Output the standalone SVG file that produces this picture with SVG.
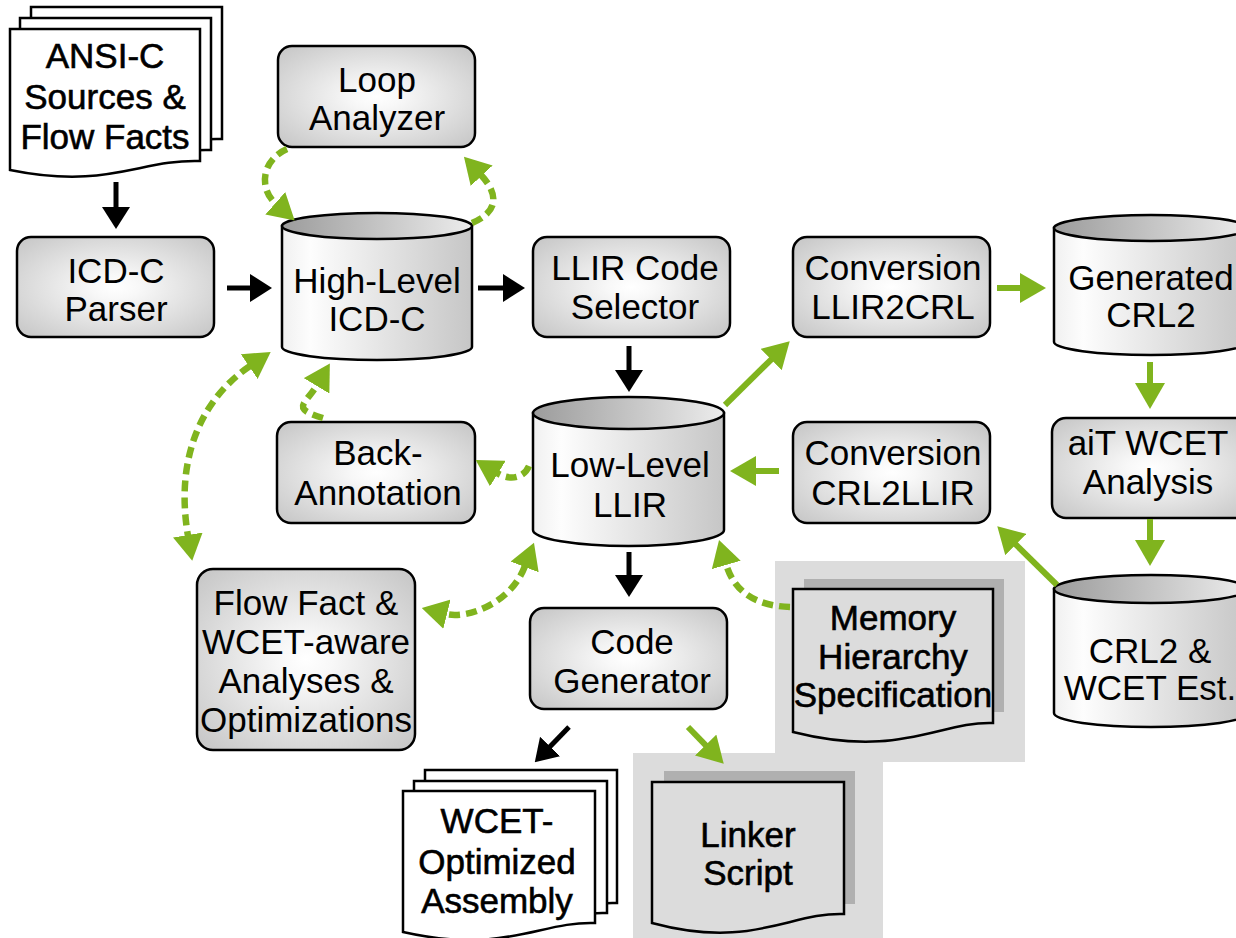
<svg xmlns="http://www.w3.org/2000/svg" width="1236" height="938" viewBox="0 0 1236 938">
<defs>
<radialGradient id="boxg" cx="0.5" cy="0.5" r="0.8">
<stop offset="0" stop-color="#ffffff"/>
<stop offset="0.15" stop-color="#f8f8f8"/>
<stop offset="1" stop-color="#bcbcbc"/>
</radialGradient>
<linearGradient id="cylbody" x1="0" y1="0" x2="1" y2="0">
<stop offset="0" stop-color="#f0f0f0"/>
<stop offset="0.15" stop-color="#fdfdfd"/>
<stop offset="1" stop-color="#c6c6c6"/>
</linearGradient>
<linearGradient id="cyltop" x1="0" y1="0" x2="1" y2="0">
<stop offset="0" stop-color="#9c9c9c"/>
<stop offset="1" stop-color="#ececec"/>
</linearGradient>
<marker id="bh" viewBox="0 0 22 28" markerWidth="22" markerHeight="28" refX="1" refY="14" orient="auto-start-reverse" markerUnits="userSpaceOnUse">
<path d="M0,0L22,14L0,28Z" fill="#000"/>
</marker>
<marker id="gh" viewBox="0 0 26 30" markerWidth="26" markerHeight="30" refX="1" refY="15" orient="auto-start-reverse" markerUnits="userSpaceOnUse">
<path d="M0,0L26,15L0,30Z" fill="#80b41e"/>
</marker>
</defs>
<style>
text{font-family:"Liberation Sans",Arial,sans-serif;font-size:35px;fill:#000;text-anchor:middle}
.doct{stroke:#000;stroke-width:0.6}
.box{fill:url(#boxg);stroke:#000;stroke-width:2.5}
.cb{fill:url(#cylbody);stroke:#000;stroke-width:2.5}
.ct{fill:url(#cyltop);stroke:#000;stroke-width:2.5}
.doc{fill:#fff;stroke:#000;stroke-width:2.5}
.gdoc{fill:#dcdcdc;stroke:#000;stroke-width:2.5}
.panel{fill:#dcdcdc}
.shadow{fill:#b0b0b0}
.ba{fill:none;stroke:#000;stroke-width:5;marker-end:url(#bh)}
.ga{fill:none;stroke:#80b41e;stroke-width:6;marker-end:url(#gh)}
.gd{fill:none;stroke:#80b41e;stroke-width:6.5;stroke-dasharray:11 6;marker-end:url(#gh)}
.gd2{marker-start:url(#gh)}
</style>

<!-- panels -->
<g id="panels">
<rect class="panel" x="775" y="561" width="250" height="201"/>
<rect class="panel" x="633" y="753" width="250" height="185"/>
</g>

<g id="ansi">
<path class="doc" d="M31,7H222V139C170,137 150,165 31,148Z"/>
<path class="doc" d="M20,18H211V150C159,148 139,176 20,159Z"/>
<path class="doc" d="M10,29H200V161C140,159 108,190 10,170Z"/>
<text class="doct" x="105" y="68">ANSI-C</text>
<text class="doct" x="105" y="109">Sources &amp;</text>
<text class="doct" x="105" y="149">Flow Facts</text>
</g>

<g id="loop">
<rect class="box" x="278" y="46" width="197" height="101" rx="14"/>
<text x="377" y="92">Loop</text>
<text x="377" y="130">Analyzer</text>
</g>

<g id="parser">
<rect class="box" x="17" y="237" width="197" height="100" rx="14"/>
<text x="116" y="283">ICD-C</text>
<text x="116" y="321">Parser</text>
</g>

<g id="highlevel">
<path class="cb" d="M282,226V347A95,13 0 0 0 472,347V226Z"/>
<ellipse class="ct" cx="377" cy="226" rx="95" ry="13"/>
<text x="377" y="293">High-Level</text>
<text x="377" y="331">ICD-C</text>
</g>

<g id="selector">
<rect class="box" x="533" y="237" width="197" height="100" rx="14"/>
<text x="635" y="280">LLIR Code</text>
<text x="635" y="319">Selector</text>
</g>

<g id="llir2crl">
<rect class="box" x="793" y="237" width="197" height="100" rx="14"/>
<text x="893" y="280">Conversion</text>
<text x="893" y="319">LLIR2CRL</text>
</g>

<g id="generated">
<path class="cb" d="M1054,228V342A97,13 0 0 0 1248,342V228Z"/>
<ellipse class="ct" cx="1151" cy="228" rx="97" ry="13"/>
<text x="1151" y="290">Generated</text>
<text x="1151" y="327">CRL2</text>
</g>

<g id="backann">
<rect class="box" x="277" y="422" width="198" height="101" rx="14"/>
<text x="378" y="465">Back-</text>
<text x="378" y="505">Annotation</text>
</g>

<g id="lowlevel">
<path class="cb" d="M533,413V530A95.5,16 0 0 0 724,530V413Z"/>
<ellipse class="ct" cx="628.5" cy="413" rx="95.5" ry="16"/>
<text x="630" y="477">Low-Level</text>
<text x="630" y="517">LLIR</text>
</g>

<g id="crl2llir">
<rect class="box" x="793" y="422" width="197" height="101" rx="14"/>
<text x="893" y="465">Conversion</text>
<text x="893" y="505">CRL2LLIR</text>
</g>

<g id="ait">
<rect class="box" x="1052" y="418" width="198" height="100" rx="14"/>
<text x="1148" y="455">aiT WCET</text>
<text x="1148" y="494">Analysis</text>
</g>

<g id="crl2wcet">
<path class="cb" d="M1054,589V713A97,14 0 0 0 1248,713V589Z"/>
<ellipse class="ct" cx="1151" cy="589" rx="97" ry="14"/>
<text x="1150" y="663">CRL2 &amp;</text>
<text x="1150" y="700">WCET Est.</text>
</g>

<g id="flowfact">
<rect class="box" x="197" y="569" width="218" height="181" rx="16"/>
<text x="306" y="615">Flow Fact &amp;</text>
<text x="306" y="654">WCET-aware</text>
<text x="306" y="693">Analyses &amp;</text>
<text x="306" y="732">Optimizations</text>
</g>

<g id="codegen">
<rect class="box" x="530" y="608" width="197" height="101" rx="14"/>
<text x="632" y="654">Code</text>
<text x="632" y="693">Generator</text>
</g>

<g id="memory">
<rect class="shadow" x="804" y="579" width="200" height="133"/>
<path class="gdoc" d="M793,589H993V723C940,721 900,759 793,732Z"/>
<text class="doct" x="893" y="630">Memory</text>
<text class="doct" x="893" y="669">Hierarchy</text>
<text class="doct" x="893" y="707">Specification</text>
</g>

<g id="linker">
<rect class="shadow" x="664" y="771" width="191" height="133"/>
<path class="gdoc" d="M652,782H844V914C790,912 752,950 652,923Z"/>
<text class="doct" x="748" y="847">Linker</text>
<text class="doct" x="748" y="885">Script</text>
</g>

<g id="assembly">
<path class="doc" d="M425,770H617V903C560,901 530,935 425,912Z"/>
<path class="doc" d="M414,781H607V913C550,911 520,945 414,922Z"/>
<path class="doc" d="M403,791H595V923C540,921 505,955 403,932Z"/>
<text class="doct" x="497" y="833">WCET-</text>
<text class="doct" x="497" y="874">Optimized</text>
<text class="doct" x="497" y="913">Assembly</text>
</g>

<g id="connectors">
<path class="ba" d="M116,182V208"/>
<path class="ba" d="M227,288H251"/>
<path class="ba" d="M478,288H504"/>
<path class="ba" d="M629,346V371"/>
<path class="ba" d="M629,552V576"/>
<path class="ba" d="M569,727L549.4,747.2"/>

<path class="ga" d="M725,405L771.9,358.8"/>
<path class="ga" d="M997,288H1021"/>
<path class="ga" d="M1150,362V384"/>
<path class="ga" d="M1150,519V541"/>
<path class="ga" d="M1057,585L1015.1,543.8"/>
<path class="ga" d="M779,471H755"/>
<path class="ga" d="M688,727L706.3,745.8"/>

<path class="gd" d="M287,149C262,160 258,188 276,204"/>
<path class="gd" d="M472,223C503,210 495,190 481,175"/>
<path class="gd" d="M323,418C290,408 305,405 317,385"/>
<path class="gd" d="M529,466C524,478 510,481 497,473"/>
<path class="gd gd2" d="M250,366C200,400 175,460 188,536"/>
<path class="gd gd2" d="M525,566C510,605 466,619 446,614"/>
<path class="gd" d="M790,607C760,606 735,595 726,564"/>
</g>
</svg>
